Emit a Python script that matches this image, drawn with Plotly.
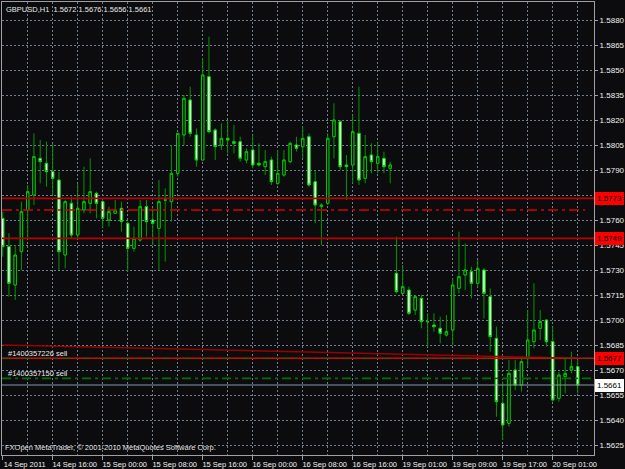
import plotly.graph_objects as go
import pandas as pd

# ---------------- data (GBPUSD H1) ----------------
opens = [1.5761, 1.5744, 1.5721, 1.5741, 1.5766, 1.5775, 1.5797, 1.5794, 1.5789, 1.5784,
         1.5739, 1.5770, 1.5751, 1.5766, 1.5770, 1.5776, 1.5771, 1.5760, 1.5764, 1.5767,
         1.5758, 1.5743, 1.5748, 1.5768, 1.5760, 1.5755, 1.5772, 1.5771, 1.5788, 1.5811,
         1.5832, 1.5811, 1.5796, 1.5846, 1.5814, 1.5805, 1.5809, 1.5807, 1.5807, 1.5796,
         1.5802, 1.5794, 1.5792, 1.5796, 1.5782, 1.5787, 1.5795, 1.5805, 1.5804, 1.5810,
         1.5783, 1.5768, 1.5770, 1.5810, 1.5819, 1.5793, 1.5793, 1.5812, 1.5785, 1.5799,
         1.5794, 1.5797, 1.5791, 1.5728, 1.5716, 1.5718, 1.5706, 1.5713, 1.5699, 1.5697,
         1.5695, 1.5691, 1.5694, 1.5719, 1.5727, 1.5729, 1.5722, 1.5730, 1.5714, 1.5689,
         1.5650, 1.5638, 1.5670, 1.5661, 1.5677, 1.5687, 1.5695, 1.5700, 1.5687, 1.5653,
         1.5666, 1.5670, 1.5672]
highs = [1.5765, 1.5752, 1.5745, 1.5771, 1.5781, 1.5812, 1.5808, 1.5807, 1.5806, 1.5789,
         1.5772, 1.5774, 1.5782, 1.5792, 1.5797, 1.5777, 1.5772, 1.5768, 1.5772, 1.5771,
         1.5759, 1.5756, 1.5772, 1.5772, 1.5767, 1.5784, 1.5779, 1.5805, 1.5812, 1.5835,
         1.5840, 1.5815, 1.5857, 1.5870, 1.5815, 1.5818, 1.5820, 1.5817, 1.5810, 1.5803,
         1.5811, 1.5806, 1.5802, 1.5798, 1.5802, 1.5802, 1.5807, 1.5810, 1.5816, 1.5812,
         1.5790, 1.5770, 1.5812, 1.5830, 1.5820, 1.5799, 1.5823, 1.5840, 1.5811, 1.5806,
         1.5807, 1.5801, 1.5795, 1.5750, 1.5733, 1.5720, 1.5715, 1.5715, 1.5704, 1.5704,
         1.5702, 1.5703, 1.5725, 1.5753, 1.5746, 1.5732, 1.5736, 1.5731, 1.5719, 1.5696,
         1.5663, 1.5676, 1.5676, 1.5678, 1.5706, 1.5722, 1.5706, 1.5700, 1.5696, 1.5669,
         1.5677, 1.5681, 1.5676]
lows = [1.5738, 1.5714, 1.5712, 1.5730, 1.5749, 1.5769, 1.5782, 1.5780, 1.5775, 1.5730,
        1.5731, 1.5749, 1.5749, 1.5764, 1.5764, 1.5761, 1.5755, 1.5756, 1.5764, 1.5753,
        1.5729, 1.5741, 1.5747, 1.5750, 1.5745, 1.5730, 1.5735, 1.5759, 1.5786, 1.5805,
        1.5810, 1.5792, 1.5796, 1.5812, 1.5796, 1.5802, 1.5800, 1.5800, 1.5795, 1.5794,
        1.5791, 1.5792, 1.5787, 1.5781, 1.5781, 1.5786, 1.5794, 1.5801, 1.5797, 1.5780,
        1.5758, 1.5745, 1.5769, 1.5797, 1.5790, 1.5772, 1.5782, 1.5781, 1.5782, 1.5788,
        1.5788, 1.5788, 1.5782, 1.5716, 1.5716, 1.5703, 1.5703, 1.5695, 1.5684, 1.5693,
        1.5686, 1.5690, 1.5685, 1.5716, 1.5718, 1.5713, 1.5720, 1.5701, 1.5681, 1.5642,
        1.5628, 1.5636, 1.5658, 1.5657, 1.5672, 1.5683, 1.5688, 1.5684, 1.5651, 1.5651,
        1.5656, 1.5668, 1.5656]
closes = [1.5744, 1.5722, 1.5739, 1.5765, 1.5777, 1.5798, 1.5795, 1.5789, 1.5785, 1.5741,
          1.5771, 1.5751, 1.5767, 1.5771, 1.5777, 1.5770, 1.5761, 1.5765, 1.5766, 1.5759,
          1.5743, 1.5749, 1.5768, 1.5759, 1.5758, 1.5771, 1.5772, 1.5788, 1.5812, 1.5833,
          1.5812, 1.5796, 1.5847, 1.5813, 1.5804, 1.5809, 1.5808, 1.5806, 1.5797, 1.5801,
          1.5793, 1.5793, 1.5795, 1.5783, 1.5788, 1.5796, 1.5806, 1.5803, 1.5809, 1.5781,
          1.5769, 1.5769, 1.5809, 1.5820, 1.5792, 1.5792, 1.5813, 1.5784, 1.5798, 1.5795,
          1.5798, 1.5792, 1.5793, 1.5717, 1.5720, 1.5704, 1.5714, 1.5699, 1.5699, 1.5696,
          1.5692, 1.5693, 1.5721, 1.5726, 1.5730, 1.5722, 1.5731, 1.5716, 1.5690, 1.5651,
          1.5637, 1.5668, 1.5661, 1.5675, 1.5688, 1.5694, 1.5699, 1.5687, 1.5652, 1.5667,
          1.5668, 1.5672, 1.5661]

# hourly bar times (Friday session ends 22:00, Monday starts 00:00)
bar_times = (list(pd.date_range("2011-09-14 08:00", "2011-09-16 22:00", freq="h").strftime("%Y-%m-%d %H:%M"))
             + list(pd.date_range("2011-09-19 00:00", "2011-09-20 05:00", freq="h").strftime("%Y-%m-%d %H:%M")))

tick_times = ["2011-09-14 08:00", "2011-09-14 16:00", "2011-09-15 00:00", "2011-09-15 08:00",
              "2011-09-15 16:00", "2011-09-16 00:00", "2011-09-16 08:00", "2011-09-16 16:00",
              "2011-09-19 01:00", "2011-09-19 09:00", "2011-09-19 17:00", "2011-09-20 01:00"]
tick_labels = ["14 Sep 2011", "14 Sep 16:00", "15 Sep 00:00", "15 Sep 08:00", "15 Sep 16:00",
               "16 Sep 00:00", "16 Sep 08:00", "16 Sep 16:00", "19 Sep 01:00", "19 Sep 09:00",
               "19 Sep 17:00", "20 Sep 01:00"]

price_ticks = [1.5625, 1.5640, 1.5655, 1.5670, 1.5685, 1.5700, 1.5715, 1.5730, 1.5745,
               1.5760, 1.5775, 1.5790, 1.5805, 1.5820, 1.5835, 1.5850, 1.5865, 1.5880]

# chart objects
hline_levels = [1.5773, 1.5749]          # solid red horizontal lines
stop_level = 1.5766                      # red dash-dot line
red_level = 1.5677                       # bright red horizontal line
order_tickets = ["#1400357226 sell", "#1400357150 sell"]
order_prices = [1.5677, 1.5665]
bid_price = 1.5661
trend_bars = [0, 92]
trend_prices = [1.5685, 1.5677]
title_text = "GBPUSD,H1  1.5672 1.5676 1.5656 1.5661"
copyright_text = "FXOpen MetaTrader, \u00a9 2001-2010 MetaQuotes Software Corp."

# ---------------- figure ----------------
FONT = "Liberation Sans"
FS = 7.5
BG = "#0c0c0e"
GRID = "#6f7e8e"
x = list(range(len(opens)))
tick_idx = [bar_times.index(t) for t in tick_times]

fig = go.Figure()

# wicks (full candles, darker green)
fig.add_trace(go.Candlestick(
    x=x, open=opens, high=highs, low=lows, close=closes,
    increasing=dict(line=dict(color="#009600", width=1), fillcolor="#000000"),
    decreasing=dict(line=dict(color="#009600", width=1), fillcolor="#ffffff"),
    whiskerwidth=0, hoverinfo="skip", showlegend=False))
# bodies (brighter outline)
body_hi = [max(o, c) for o, c in zip(opens, closes)]
body_lo = [min(o, c) for o, c in zip(opens, closes)]
fig.add_trace(go.Candlestick(
    x=x, open=opens, high=body_hi, low=body_lo, close=closes,
    increasing=dict(line=dict(color="#00cc00", width=1), fillcolor="#000000"),
    decreasing=dict(line=dict(color="#00cc00", width=1), fillcolor="#ffffff"),
    whiskerwidth=0, hoverinfo="skip", showlegend=False))

# trend line
fig.add_trace(go.Scatter(x=trend_bars, y=trend_prices, mode="lines",
                         line=dict(color="#9a0000", width=1.5), hoverinfo="skip",
                         showlegend=False))

shapes = []
shapes.append(dict(type="line", xref="paper", x0=0, x1=1, yref="y", y0=bid_price, y1=bid_price,
                   line=dict(color="#8a96a6", width=1), layer="above"))
for p in hline_levels:
    shapes.append(dict(type="line", xref="paper", x0=0, x1=1, yref="y", y0=p, y1=p,
                       line=dict(color="#b80000", width=1.8), layer="above"))
shapes.append(dict(type="line", xref="paper", x0=0, x1=0.985, yref="y", y0=stop_level, y1=stop_level,
                   line=dict(color="#d40000", width=1.5, dash="10px,4px,3px,4px"), layer="above"))
shapes.append(dict(type="line", xref="paper", x0=0, x1=1, yref="y", y0=red_level, y1=red_level,
                   line=dict(color="#e00000", width=1.5), layer="above"))
for p in order_prices:
    shapes.append(dict(type="line", xref="paper", x0=0, x1=1, yref="y", y0=p, y1=p,
                       opacity=0.45 if p == red_level else 1.0,
                       line=dict(color="#007000", width=1.8, dash="9px,4px,3px,4px"), layer="above"))

annotations = []
annotations.append(dict(text=title_text, xref="paper", yref="paper", x=0.004, y=0.998,
                        xanchor="left", yanchor="top", showarrow=False,
                        font=dict(family=FONT, size=FS, color="#e8e8e8")))
annotations.append(dict(text=copyright_text, xref="paper", yref="paper", x=0.002, y=0.0,
                        xanchor="left", yanchor="bottom", yshift=1, showarrow=False,
                        font=dict(family=FONT, size=FS, color="#e0e0e0")))
for t, p in zip(order_tickets, order_prices):
    annotations.append(dict(text=t, xref="paper", yref="y", x=0.007, y=p,
                            xanchor="left", yanchor="bottom", yshift=-2, showarrow=False,
                            font=dict(family=FONT, size=FS, color="#e8e8e8")))
for p, bg in [(hline_levels[0], "#ff0000"), (hline_levels[1], "#ff0000"),
              (red_level, "#ff0000"), (bid_price, "#ffffff")]:
    annotations.append(dict(text=f"{p:.4f}", xref="paper", yref="y", x=1, y=p,
                            xanchor="left", yanchor="middle", xshift=1, showarrow=False,
                            bgcolor=bg, borderpad=1, bordercolor=bg,
                            font=dict(family=FONT, size=FS + 0.5, color="#000000")))

fig.update_layout(
    width=625, height=469,
    margin=dict(l=2, r=31, t=2, b=14, pad=0),
    paper_bgcolor=BG, plot_bgcolor=BG,
    boxgap=0.45,
    showlegend=False,
    shapes=shapes, annotations=annotations,
    xaxis=dict(
        range=[-0.11, 94.61], rangeslider=dict(visible=False),
        tickmode="array", tickvals=tick_idx, ticktext=tick_labels,
        tickangle=0, automargin=False,
        ticks="outside", ticklen=4, tickcolor="#a0a0a0", tickwidth=1,
        ticklabelshift=22, ticklabelstandoff=-2,
        tickfont=dict(family=FONT, size=FS, color="#f0f0f0"),
        showgrid=True, gridcolor=GRID, gridwidth=1, griddash="2px,2px",
        minor=dict(tickmode="linear", tick0=0, dtick=4, showgrid=True,
                   gridcolor=GRID, gridwidth=1, griddash="2px,2px", ticks=""),
        showline=True, linecolor="#a0a0a0", linewidth=1, mirror=True,
        zeroline=False, fixedrange=True),
    yaxis=dict(
        side="right", range=[1.5619, 1.58908], automargin=False,
        tickmode="array", tickvals=price_ticks, ticktext=[f"{v:.4f}" for v in price_ticks],
        ticks="outside", ticklen=3, tickcolor="#a0a0a0", tickwidth=1,
        tickfont=dict(family=FONT, size=FS + 0.5, color="#f0f0f0"),
        showgrid=True, gridcolor=GRID, gridwidth=1, griddash="2px,2px",
        showline=True, linecolor="#a0a0a0", linewidth=1, mirror=True,
        zeroline=False, fixedrange=True),
)

fig.write_html("out.html")
